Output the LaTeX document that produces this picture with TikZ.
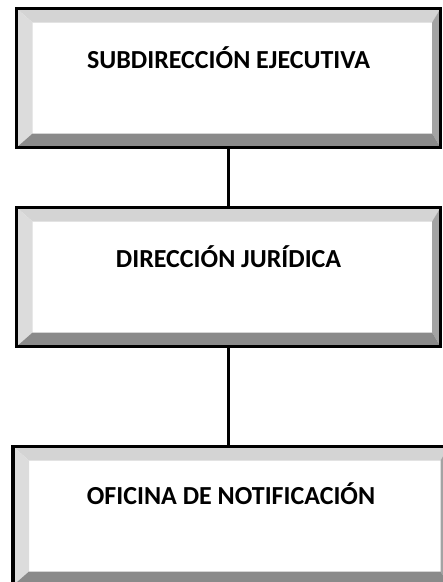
\documentclass[tikz,border=0pt]{standalone}
\usepackage{fontspec}
\setmainfont{Carlito}
\usepackage{tikz}
\usetikzlibrary{
  positioning,
  calc
}
\definecolor{BevelTop}{HTML}{D4D4D4}
\definecolor{BevelLeft}{HTML}{DCDCDC}
\definecolor{BevelRight}{HTML}{A3A3A3}
\definecolor{BevelBottom}{HTML}{8A8A8A}
\tikzset{
  bevelbox/.style={
    draw=black,
    line width=3.5pt,
    fill=white,
    inner sep=0pt,
    minimum width=424pt,
    minimum height=139pt,
    text height=14pt,
    text depth=33pt,
    font=\bfseries\fontsize{26}{30}\selectfont,
    path picture={
      \coordinate (nw) at (path picture bounding box.north west);
      \coordinate (ne) at (path picture bounding box.north east);
      \coordinate (sw) at (path picture bounding box.south west);
      \coordinate (se) at (path picture bounding box.south east);
      \fill[BevelTop]
      (nw) -- (ne) -- ($(ne)+(-8.5pt,-14pt)$) --
      ($(nw)+(16pt,-14pt)$) -- cycle;
      \fill[BevelLeft]
      (nw) -- ($(nw)+(16pt,-14pt)$) --
      ($(sw)+(16pt,14pt)$) -- (sw) -- cycle;
      \fill[BevelRight]
      (ne) -- ($(ne)+(-8.5pt,-14pt)$) --
      ($(se)+(-8.5pt,14pt)$) -- (se) -- cycle;
      \fill[BevelBottom]
      (sw) -- ($(sw)+(16pt,14pt)$) --
      ($(se)+(-8.5pt,14pt)$) -- (se) -- cycle;
    }
  },
  connection/.style={
    line width=3.5pt,
    draw=black
  }
}

\begin{document}
\begin{tikzpicture}[x=1pt,y=-1pt]

  \useasboundingbox (0,0) rectangle (443,582);

  \node[
    bevelbox
  ] at (228.6,78) (subdir) {
    SUBDIRECCIÓN EJECUTIVA
  };

  \node[
    bevelbox
  ] at (228.6,277) (direccion) {
    DIRECCIÓN JURÍDICA
  };

  \node[
    bevelbox,
    minimum width=436pt,
    text depth=37pt
  ] at (231,516) (oficina) {
    OFICINA DE NOTIFICACIÓN
  };

  \draw[connection]
  (subdir.south) --
  (direccion.north);

  \draw[connection]
  (direccion.south) --
  (direccion.south |- oficina.north);

\end{tikzpicture}
\end{document}
